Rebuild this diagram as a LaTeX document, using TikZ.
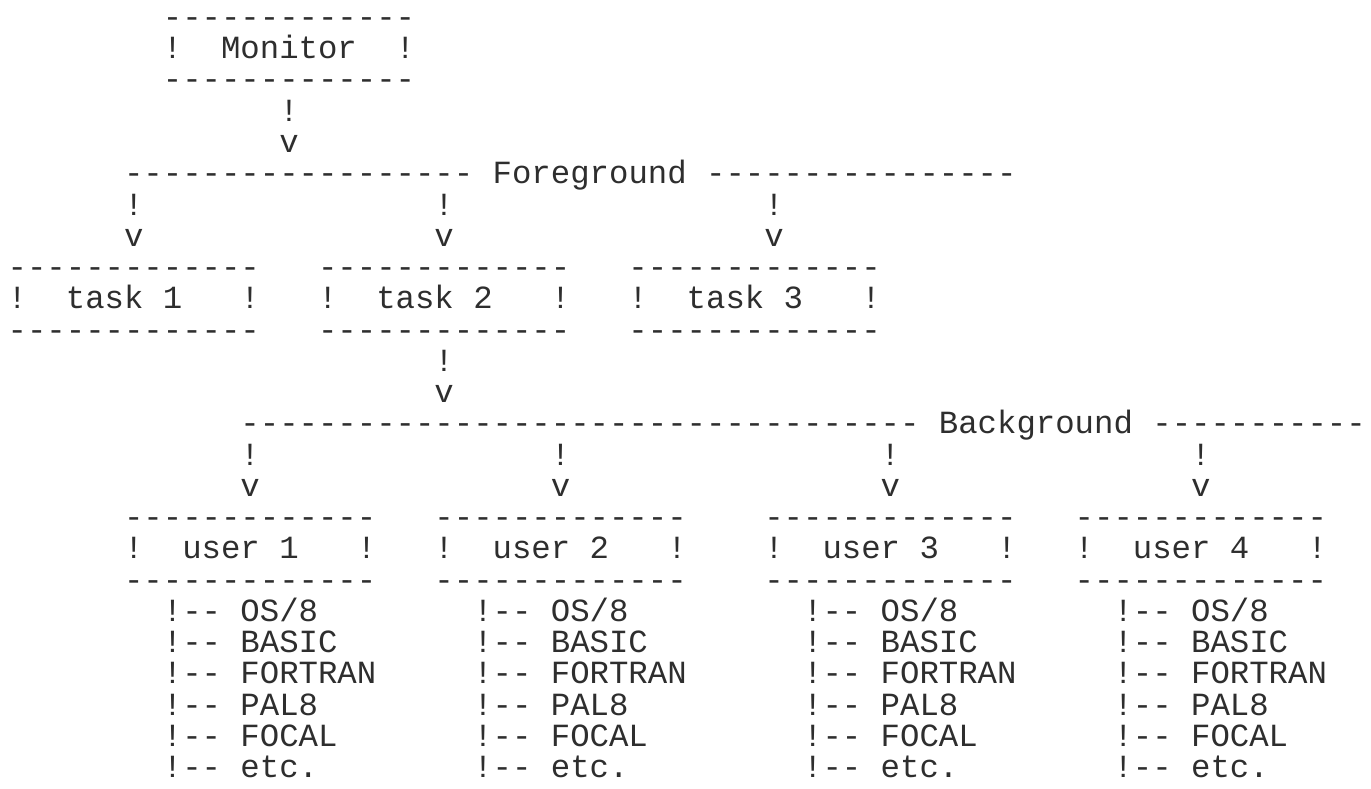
\documentclass[tikz,border=0pt]{standalone}
\usepackage{fontspec}
\setmonofont{Liberation Mono}
\usetikzlibrary{positioning}
\definecolor{ink}{HTML}{2E2E2E}
% typed lines, one \hbox per line, baseline on the first line
\newcommand{\typed}[1]{\vtop{\def\\{\egroup\hbox\bgroup}\hbox\bgroup#1\egroup}}

\begin{document}
\begin{tikzpicture}[
  x=0.388cm, y=-0.625cm,
  tw/.style={font=\ttfamily\fontsize{18.4}{17.78}\selectfont, text=ink,
    inner sep=0pt, anchor=base west},
]

% Canvas: one column = one typewriter character, one row = one typed line
\useasboundingbox[fill=white] (-0.376,-0.88) rectangle (70.29,24.336);

% === Monitor ===
\node[tw] (monitor) at (8,0) {\typed{-------------\\!~~Monitor~~!\\-------------}};
\node[tw] (mon-arr) at (14,3) {\typed{!\\v}};

% === Foreground line ===
\node[tw] (fg) at (6,5) {------------------~Foreground~----------------};
\node[tw] (fg-arr1) at (6,6) {\typed{!\\v}};
\node[tw] (fg-arr2) at (22,6) {\typed{!\\v}};
\node[tw] (fg-arr3) at (39,6) {\typed{!\\v}};

% === Tasks ===
\node[tw] (task1) at (0,8) {\typed{-------------\\!~~task~1~~~!\\-------------}};
\node[tw] (task2) at (16,8) {\typed{-------------\\!~~task~2~~~!\\-------------}};
\node[tw] (task3) at (32,8) {\typed{-------------\\!~~task~3~~~!\\-------------}};
\node[tw] (task-arr) at (22,11) {\typed{!\\v}};

% === Background line ===
\node[tw] (bg) at (12,13) {-----------------------------------~Background~-----------};
\node[tw] (bg-arr1) at (12,14) {\typed{!\\v}};
\node[tw] (bg-arr2) at (28,14) {\typed{!\\v}};
\node[tw] (bg-arr3) at (45,14) {\typed{!\\v}};
\node[tw] (bg-arr4) at (61,14) {\typed{!\\v}};

% === Users ===
\node[tw] (user1) at (6,16) {\typed{-------------\\!~~user~1~~~!\\-------------}};
\node[tw] (user2) at (22,16) {\typed{-------------\\!~~user~2~~~!\\-------------}};
\node[tw] (user3) at (39,16) {\typed{-------------\\!~~user~3~~~!\\-------------}};
\node[tw] (user4) at (55,16) {\typed{-------------\\!~~user~4~~~!\\-------------}};

% === Programs under each user ===
\node[tw] (prog1) at (8,19) {\typed{!--~OS/8\\!--~BASIC\\!--~FORTRAN\\!--~PAL8\\!--~FOCAL\\!--~etc.}};
\node[tw] (prog2) at (24,19) {\typed{!--~OS/8\\!--~BASIC\\!--~FORTRAN\\!--~PAL8\\!--~FOCAL\\!--~etc.}};
\node[tw] (prog3) at (41,19) {\typed{!--~OS/8\\!--~BASIC\\!--~FORTRAN\\!--~PAL8\\!--~FOCAL\\!--~etc.}};
\node[tw] (prog4) at (57,19) {\typed{!--~OS/8\\!--~BASIC\\!--~FORTRAN\\!--~PAL8\\!--~FOCAL\\!--~etc.}};

\end{tikzpicture}
\end{document}
